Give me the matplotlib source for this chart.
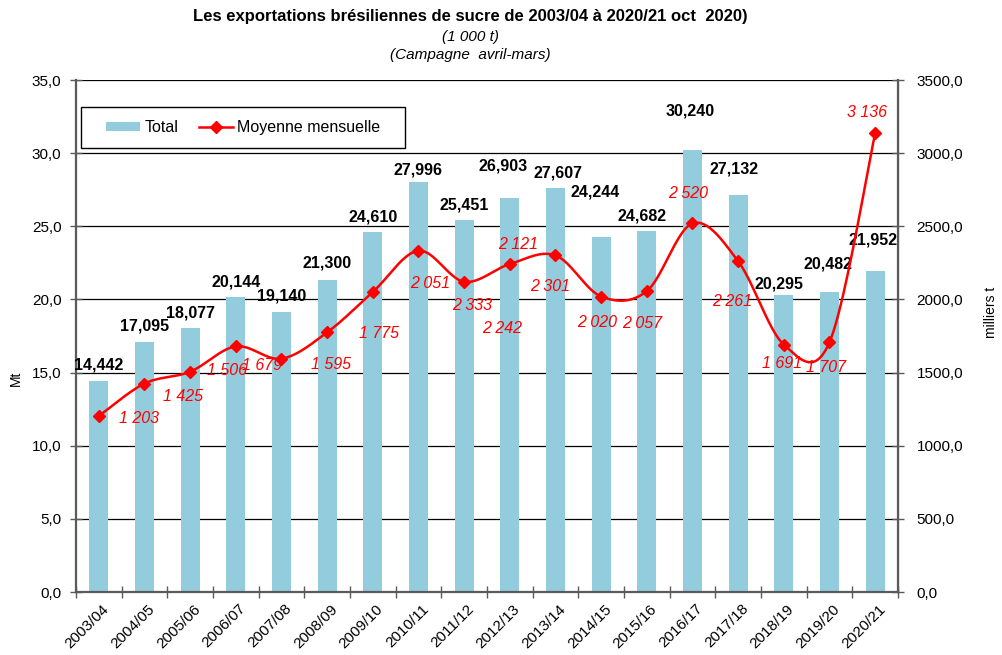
import matplotlib
matplotlib.use("Agg")
import matplotlib.pyplot as plt
import numpy as np
from matplotlib.patches import Rectangle
from matplotlib.lines import Line2D
from matplotlib.patches import Patch
from matplotlib.transforms import ScaledTranslation

# ---------------- data ----------------
campagnes = ["2003/04", "2004/05", "2005/06", "2006/07", "2007/08", "2008/09",
             "2009/10", "2010/11", "2011/12", "2012/13", "2013/14", "2014/15",
             "2015/16", "2016/17", "2017/18", "2018/19", "2019/20", "2020/21"]
total_mt = [14.442, 17.095, 18.077, 20.144, 19.140, 21.300, 24.610, 27.996, 25.451,
            26.903, 27.607, 24.244, 24.682, 30.240, 27.132, 20.295, 20.482, 21.952]
moyenne_mensuelle = [1203, 1425, 1506, 1679, 1595, 1775, 2051, 2333, 2121,
                     2242, 2301, 2020, 2057, 2520, 2261, 1691, 1707, 3136]

title = "Les exportations brésiliennes de sucre de 2003/04 à 2020/21 oct  2020)"
subtitle1 = "(1 000 t)"
subtitle2 = "(Campagne  avril-mars)"

# label offsets in pixels (dx, dy; dy up) - layout only
bar_lbl_off = [(0, 16), (0, 16), (0, 15), (0, 15), (0, 16), (0, 17), (0, 15), (0, 12), (0, 15),
               (-7, 32), (2, 15), (-6, 45), (-5, 15), (-2, 39), (-4, 26), (-5, 11), (-1, 28), (-2, 31)]
line_lbl_off = [(40, -2), (39, -13), (37, 1), (26, -19), (50, -6), (52, -1), (57, 8), (54, -55),
                (54, 37), (-8, -64), (-5, -31), (-4, -26), (-5, -32), (-4, 30), (-6, -40),
                (-2, -19), (-3, -25), (-8, 21)]

BAR_COLOR = "#93CDDD"
RED = "#FF0000"
SPINE = "#5a5a5a"

plt.rcParams["font.family"] = ["Liberation Sans", "DejaVu Sans"]

W, H = 1002, 655
fig = plt.figure(figsize=(W / 100, H / 100), dpi=100)
L, R, T, B = 76, 898, 80, 592
ax = fig.add_axes([L / W, 1 - B / H, (R - L) / W, (B - T) / H])
ax2 = ax.twinx()

x = np.arange(len(campagnes))
ax.bar(x, total_mt, width=0.42, color=BAR_COLOR, zorder=2)
ax.set_xlim(-0.5, len(campagnes) - 0.5)
ax.set_ylim(0, 35)
ax.set_yticks(np.arange(0, 35.1, 5))
ax.set_yticklabels([f"{v:.1f}".replace(".", ",") for v in np.arange(0, 35.1, 5)])
ax.set_axisbelow(True)
ax.yaxis.grid(True, color="black", lw=0.9)
ax.set_xticks(x)
ax.set_xticklabels(campagnes, rotation=45, ha="right", va="top", rotation_mode="anchor", fontsize=11)
ax.set_xticks(np.arange(-0.5, len(campagnes), 1), minor=True)
ax.tick_params(axis="x", which="major", length=0, pad=7)
ax.tick_params(axis="x", which="minor", length=9, width=1, direction="inout", color=SPINE)
ax.tick_params(axis="y", length=9, width=1, direction="inout", color=SPINE, labelsize=11, pad=6)
off = ScaledTranslation(0.03, 0, fig.dpi_scale_trans)
for lbl in ax.get_xticklabels():
    lbl.set_transform(lbl.get_transform() + off)

for sp in ["top"]:
    ax.spines[sp].set_visible(False)
    ax2.spines[sp].set_visible(False)
for sp in ["left", "bottom"]:
    ax.spines[sp].set_color(SPINE)
    ax.spines[sp].set_linewidth(1.6)
ax2.spines["right"].set_color(SPINE)
ax2.spines["right"].set_linewidth(1.6)
ax2.spines["left"].set_visible(False)
ax2.spines["bottom"].set_visible(False)

for i, v in enumerate(total_mt):
    dx, dy = bar_lbl_off[i]
    ax.annotate(f"{v:.3f}".replace(".", ","), (i, v), xytext=(dx, dy),
                textcoords="offset pixels", ha="center", va="center",
                fontsize=11.5, fontweight="bold", color="black", zorder=5)

# smoothed line (Catmull-Rom style bezier, like Excel smoothing)
ys = np.array(moyenne_mensuelle, dtype=float)
xs = x.astype(float)
px = np.concatenate([[xs[0]], xs, [xs[-1]]])
py = np.concatenate([[ys[0]], ys, [ys[-1]]])
cx, cy = [], []
t = np.linspace(0, 1, 40)
for k in range(1, len(px) - 2):
    p0 = np.array([px[k - 1], py[k - 1]]); p1 = np.array([px[k], py[k]])
    p2 = np.array([px[k + 1], py[k + 1]]); p3 = np.array([px[k + 2], py[k + 2]])
    c1 = p1 + (p2 - p0) / 6.0
    c2 = p2 - (p3 - p1) / 6.0
    bx = ((1 - t) ** 3) * p1[0] + 3 * ((1 - t) ** 2) * t * c1[0] + 3 * (1 - t) * t ** 2 * c2[0] + t ** 3 * p2[0]
    by = ((1 - t) ** 3) * p1[1] + 3 * ((1 - t) ** 2) * t * c1[1] + 3 * (1 - t) * t ** 2 * c2[1] + t ** 3 * p2[1]
    cx.extend(bx); cy.extend(by)
ax2.plot(cx, cy, color=RED, lw=1.8, zorder=3)
ax2.plot(xs, ys, linestyle="none", marker="D", ms=6.5, color=RED, zorder=4)
ax2.set_ylim(0, 3500)
ax2.set_yticks(np.arange(0, 3501, 500))
ax2.set_yticklabels([f"{v:.1f}".replace(".", ",") for v in np.arange(0, 3501, 500)])
ax2.tick_params(axis="y", length=9, width=1, direction="inout", color=SPINE, labelsize=11, pad=9)

for i, v in enumerate(moyenne_mensuelle):
    dx, dy = line_lbl_off[i]
    s = f"{v:,}".replace(",", " ")
    ax2.annotate(s, (i, v), xytext=(dx, dy), textcoords="offset pixels",
                 ha="center", va="center", fontsize=11.5, fontstyle="italic", color=RED, zorder=6)

# axis titles
fig.text(16 / W, 1 - 378 / H, "Mt", rotation=90, ha="center", va="center", fontsize=10)
fig.text(991 / W, 1 - 312 / H, "milliers t", rotation=90, ha="center", va="center", fontsize=10)

# titles
fig.text(470 / W, 1 - 17 / H, title, ha="center", va="center", fontsize=12, fontweight="bold")
fig.text(470 / W, 1 - 37 / H, subtitle1, ha="center", va="center", fontsize=11, fontstyle="italic")
fig.text(470 / W, 1 - 55 / H, subtitle2, ha="center", va="center", fontsize=11, fontstyle="italic")

# legend
box = Rectangle((81 / W, 1 - 148 / H), (405 - 81) / W, (148 - 107) / H, transform=fig.transFigure,
                facecolor="white", edgecolor="black", lw=1.0, zorder=10)
fig.patches.append(box)
handles = [Patch(facecolor=BAR_COLOR, edgecolor="none"),
           Line2D([0], [0], color=RED, lw=1.8, marker="D", ms=6.5)]
leg = fig.legend(handles, ["Total", "Moyenne mensuelle"], loc="center left",
                 bbox_to_anchor=(95 / W, 1 - 127.5 / H), ncol=2, frameon=False,
                 fontsize=11.5, handlelength=2.1, handleheight=0.55, handletextpad=0.3,
                 columnspacing=1.3, borderpad=0.2)
leg.set_zorder(11)

fig.savefig("out.png", dpi=100)
